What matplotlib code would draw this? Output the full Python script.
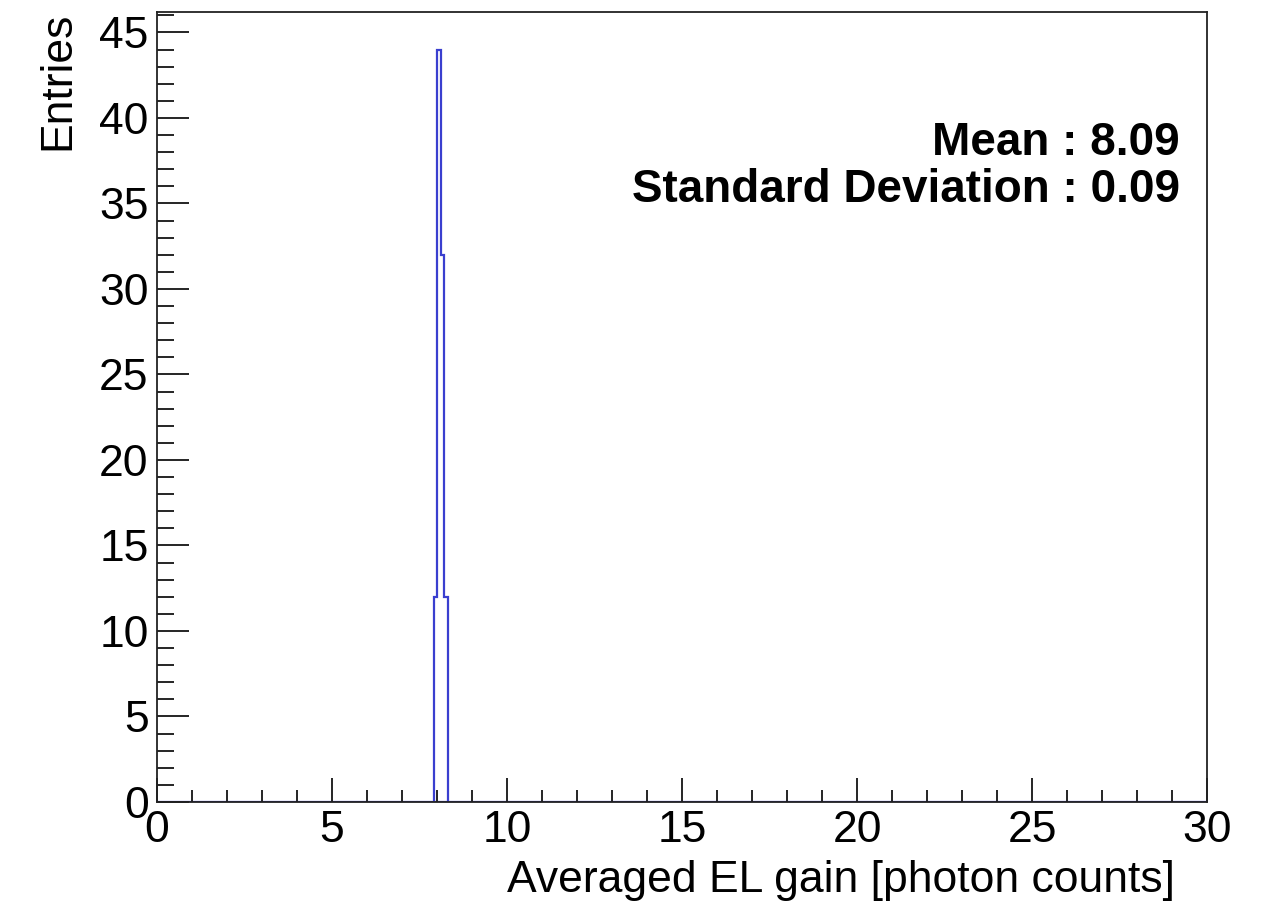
import matplotlib
matplotlib.use("Agg")
import matplotlib.pyplot as plt
import matplotlib.ticker as ticker
import numpy as np

# histogram content (bin width 0.1)
bin_edges = [7.9, 8.0, 8.1, 8.2, 8.3]
counts = [12, 44, 32, 12]
mean_text = "Mean : 8.09"
std_text = "Standard Deviation : 0.09"
x_label = "Averaged EL gain [photon counts]"
y_label = "Entries"

plt.rcParams['font.family'] = ['Liberation Sans', 'DejaVu Sans']

fig = plt.figure(figsize=(12.63, 9.06), dpi=100)
ax = fig.add_axes([0.1243, 0.1148, 0.8314, 0.872])

ax.stairs(counts, bin_edges, baseline=0, color="#3a3fcf", linewidth=1.6)
ax.plot([0, 30], [0, 0], color="#3a3fcf", linewidth=1.6, zorder=1)

ax.set_xlim(0, 30)
ax.set_ylim(0, max(counts) * 1.05)

ax.xaxis.set_major_locator(ticker.MultipleLocator(5))
ax.xaxis.set_minor_locator(ticker.MultipleLocator(1))
ax.yaxis.set_major_locator(ticker.MultipleLocator(5))
ax.yaxis.set_minor_locator(ticker.MultipleLocator(1))

ax.tick_params(axis='x', which='major', direction='in', length=17, width=1.2,
               labelsize=32, pad=6, top=False)
ax.tick_params(axis='x', which='minor', direction='in', length=8.5, width=1.2, top=False)
ax.tick_params(axis='y', which='major', direction='in', length=23, width=1.2,
               labelsize=32, pad=6, right=False)
ax.tick_params(axis='y', which='minor', direction='in', length=12, width=1.2, right=False)

for s in ax.spines.values():
    s.set_linewidth(1.3)
    s.set_color("#222222")

ax.set_xlabel(x_label, fontsize=32, ha='right', va='top')
ax.xaxis.set_label_coords(0.9695, -0.073)
ax.set_ylabel(y_label, fontsize=32, loc='top', labelpad=15)

ax.text(0.974, 0.834, mean_text, transform=ax.transAxes, ha='right', va='center',
        fontsize=33, fontweight='bold')
ax.text(0.974, 0.775, std_text, transform=ax.transAxes, ha='right', va='center',
        fontsize=33, fontweight='bold')

fig.savefig("out.png", dpi=100)
